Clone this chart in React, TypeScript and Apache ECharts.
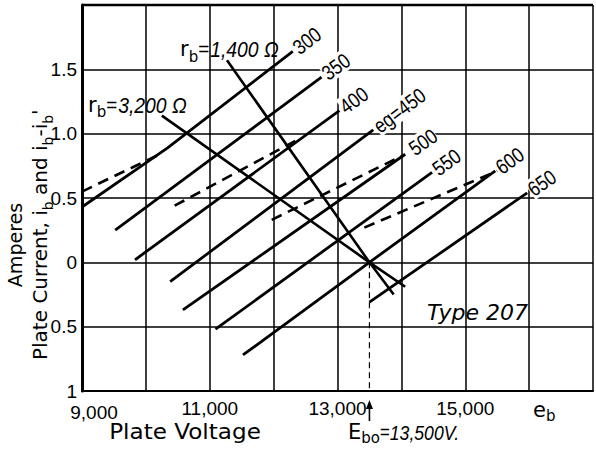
import React, { useEffect, useRef } from "react";
import * as echarts from "echarts";

// ---- data (plate voltage V, plate current A) ----
const voltageTickValues = [9000, 11000, 13000, 15000];
const currentTickValues = [-1, -0.5, 0, 0.5, 1, 1.5, 2];
const currentTickLabels = ["1", "0.5", "0", "0.5", "1.0", "1.5", ""];

const gridVoltageLabels = ["300", "350", "400", "eg=450", "500", "550", "600", "650"];

const eg300 = [[9000, 0.43], [10340, 0.89], [12300, 1.64]];
const eg350 = [[9520, 0.25], [12750, 1.44]];
const eg400 = [[9830, 0.02], [13030, 1.18]];
const eg450 = [[10380, -0.15], [13560, 1.03]];
const eg500 = [[10580, -0.37], [14060, 0.84]];
const eg550 = [[11090, -0.52], [14480, 0.7]];
const eg600 = [[11520, -0.72], [13500, 0], [15470, 0.71]];
const eg650 = [[13500, -0.31], [15970, 0.54]];

// dashed curves (ib - ib')
const diff300 = [[9000, 0.55], [10220, 0.84]];
const diff400 = [[10450, 0.44], [12400, 0.96]];
const diff500 = [[11970, 0.33], [14020, 0.83]];
const diff600 = [[13420, 0.27], [15500, 0.71]];

// load lines
const load1400 = [[11270, 1.57], [13500, 0], [13880, -0.25]];
const load3200 = [[10250, 1.14], [13500, 0], [14060, -0.19]];

const eboVoltage = 13500;
const eboLine = [[13500, 0], [13500, -1]];

const FONT = '"DejaVu Sans", "Liberation Sans", sans-serif';
const NUM = '"Liberation Sans", Arial, sans-serif';
const NARROW_SCALE = 0.84;

type Part = { t: string; size: number; dy?: number; dx?: number; italic?: boolean; family?: string; sx?: number };

export default function App() {
  const ref = useRef<HTMLDivElement>(null);

  useEffect(() => {
    const el = ref.current!;
    const chart = echarts.init(el, null, { renderer: "svg", width: 596, height: 449 });

    const solidLines = [eg300, eg350, eg400, eg450, eg500, eg550, eg600, eg650];
    const dashedLines = [diff300, diff400, diff500, diff600];

    const series: any[] = [];
    solidLines.forEach((d) =>
      series.push({
        type: "line", data: d, symbol: "none", silent: true, z: 4,
        lineStyle: { color: "#000", width: 2.8 },
      })
    );
    dashedLines.forEach((d) =>
      series.push({
        type: "line", data: d, symbol: "none", silent: true, z: 4,
        lineStyle: { color: "#000", width: 2.6, type: [11, 7] },
      })
    );
    [load1400, load3200].forEach((d) =>
      series.push({
        type: "line", data: d, symbol: "none", silent: true, z: 4,
        lineStyle: { color: "#000", width: 2.6 },
      })
    );
    series.push({
      type: "line", data: eboLine, symbol: "none", silent: true, z: 4,
      lineStyle: { color: "#000", width: 1.2, type: [6, 4] },
    });

    chart.setOption({
      animation: false,
      backgroundColor: "#fff",
      grid: { left: 82, top: 5, right: 0, bottom: 58 },
      xAxis: {
        type: "value", min: 9000, max: 17000, interval: 1000,
        axisLine: { show: true, onZero: false, lineStyle: { color: "#000", width: 2 } },
        axisTick: { show: false },
        splitLine: { show: true, lineStyle: { color: "#000", width: 1.5 } },
        axisLabel: {
          interval: 0, margin: 9, color: "#000", fontSize: 19, lineHeight: 16, fontFamily: NUM,
          formatter: (v: number) =>
            voltageTickValues.includes(v) && v !== voltageTickValues[0] ? v.toLocaleString("en-US") : "",
        },
      },
      yAxis: {
        type: "value", min: -1, max: 2, interval: 0.5,
        axisLine: { show: true, onZero: false, lineStyle: { color: "#000", width: 3 } },
        axisTick: { show: false },
        splitLine: { show: true, lineStyle: { color: "#000", width: 1.5 } },
        axisLabel: {
          margin: 5, color: "#000", fontSize: 19, lineHeight: 16, fontFamily: NUM,
          formatter: (v: number) => {
            const k = currentTickValues.findIndex((t) => Math.abs(t - v) < 1e-6);
            return k >= 0 ? currentTickLabels[k] : "";
          },
        },
      },
      series,
    });

    const ctx = document.createElement("canvas").getContext("2d")!;
    const measure = (t: string, size: number, fam: string, italic?: boolean) => {
      ctx.font = `${italic ? "italic " : ""}${size}px ${fam}`;
      return ctx.measureText(t).width;
    };
    const partsLabel = (x: number, y: number, parts: Part[], rotation = 0) => {
      let cx = 0;
      const children = parts.map((p) => {
        const fam = p.family || FONT;
        const sx = p.sx || 1;
        cx += p.dx || 0;
        const e = {
          type: "text", x: cx, y: p.dy || 0, scaleX: sx, silent: true,
          style: {
            text: p.t, fontSize: p.size, fontFamily: fam, fontStyle: p.italic ? "italic" : "normal",
            fill: "#000", align: "left", verticalAlign: "middle",
          },
        };
        cx += measure(p.t, p.size, fam, p.italic) * sx;
        return e;
      });
      return { type: "group", x, y, rotation, silent: true, children };
    };

    const px = (p: number[]) => chart.convertToPixel({ gridIndex: 0 }, p) as number[];
    const elements: any[] = [];

    // top border
    const tl = px([9000, 2]);
    const tr = px([17000, 2]);
    elements.push({ type: "line", silent: true, z: 5, shape: { x1: tl[0], y1: tl[1], x2: tr[0], y2: tr[1] }, style: { stroke: "#000", lineWidth: 2.5 } });

    // first x tick label, nudged right of the axis as in the reference
    const first = px([voltageTickValues[0], -1]);
    elements.push({
      type: "text", silent: true, x: first[0] + 12, y: first[1] + 21,
      style: { text: voltageTickValues[0].toLocaleString("en-US"), fontSize: 19, fontFamily: NUM, fill: "#000", align: "center", verticalAlign: "middle" },
    });

    // line labels
    solidLines.forEach((d, k) => {
      const a = px(d[d.length - 2]);
      const b = px(d[d.length - 1]);
      const ang = Math.atan2(-(b[1] - a[1]), b[0] - a[0]);
      const off = k === 4 ? 7 : 3;
      elements.push({
        type: "text", silent: true, z: 6, scaleX: NARROW_SCALE,
        x: b[0] + Math.cos(ang) * off, y: b[1] - Math.sin(ang) * off, rotation: ang,
        style: { text: gridVoltageLabels[k], fontSize: 21, fontFamily: NUM, fill: "#000", align: "left", verticalAlign: "middle", backgroundColor: "#fff" },
      });
    });

    // rb labels
    elements.push(partsLabel(180, 49, [
      { t: "r", size: 21 }, { t: "b", size: 15, dy: 8 }, { t: "=", size: 21, family: NUM, sx: 0.9 },
      { t: "1,400 Ω", size: 22, italic: true, family: NUM, dx: 1, sx: 0.88 },
    ]));
    elements.push(partsLabel(88, 105, [
      { t: "r", size: 21 }, { t: "b", size: 15, dy: 7 }, { t: "=", size: 21, family: NUM, sx: 0.9 },
      { t: "3,200 Ω", size: 22, italic: true, family: NUM, dx: 1, sx: 0.88 },
    ]));

    // Type 207
    elements.push({
      type: "text", silent: true, z: 6, x: 427, y: 312,
      style: { text: "Type 207", fontSize: 22, fontFamily: FONT, fontStyle: "italic", fill: "#000", align: "left", verticalAlign: "middle" },
    });

    // axis names
    elements.push({
      type: "text", silent: true, x: 185, y: 432, scaleX: 1.1,
      style: { text: "Plate Voltage", fontSize: 21, fontFamily: FONT, fill: "#000", align: "center", verticalAlign: "middle" },
    });
    elements.push(partsLabel(533, 410, [{ t: "e", size: 21 }, { t: "b", size: 15, dy: 6 }]));
    elements.push({
      type: "text", silent: true, x: 15, y: 245, rotation: Math.PI / 2,
      style: { text: "Amperes", fontSize: 19, fontFamily: FONT, fill: "#000", align: "center", verticalAlign: "middle" },
    });
    elements.push(partsLabel(40, 360, [
      { t: "Plate Current, i", size: 20 }, { t: "b", size: 14, dy: 8 },
      { t: " and i", size: 20 }, { t: "b", size: 14, dy: 8 },
      { t: "-i", size: 20 }, { t: "b", size: 14, dy: 8 }, { t: "'", size: 20, dy: -1 },
    ], Math.PI / 2));

    // Ebo label and arrow
    const ex = px([eboVoltage, -1])[0];
    elements.push({ type: "line", silent: true, shape: { x1: ex, y1: 421, x2: ex, y2: 405 }, style: { stroke: "#000", lineWidth: 1.6 } });
    elements.push({ type: "polygon", silent: true, shape: { points: [[ex - 3.5, 409], [ex, 400], [ex + 3.5, 409]] }, style: { fill: "#000" } });
    elements.push(partsLabel(348, 432, [
      { t: "E", size: 21 }, { t: "bo", size: 15, dy: 6 }, { t: "=", size: 20, family: NUM, sx: NARROW_SCALE },
      { t: "13,500V.", size: 21, italic: true, family: NUM, sx: NARROW_SCALE },
    ]));

    chart.setOption({ graphic: { elements } });

    return () => chart.dispose();
  }, []);

  return (
    <div
      ref={ref}
      style={{ position: "absolute", left: 0, top: 0, width: 596, height: 449, background: "#fff" }}
    />
  );
}
